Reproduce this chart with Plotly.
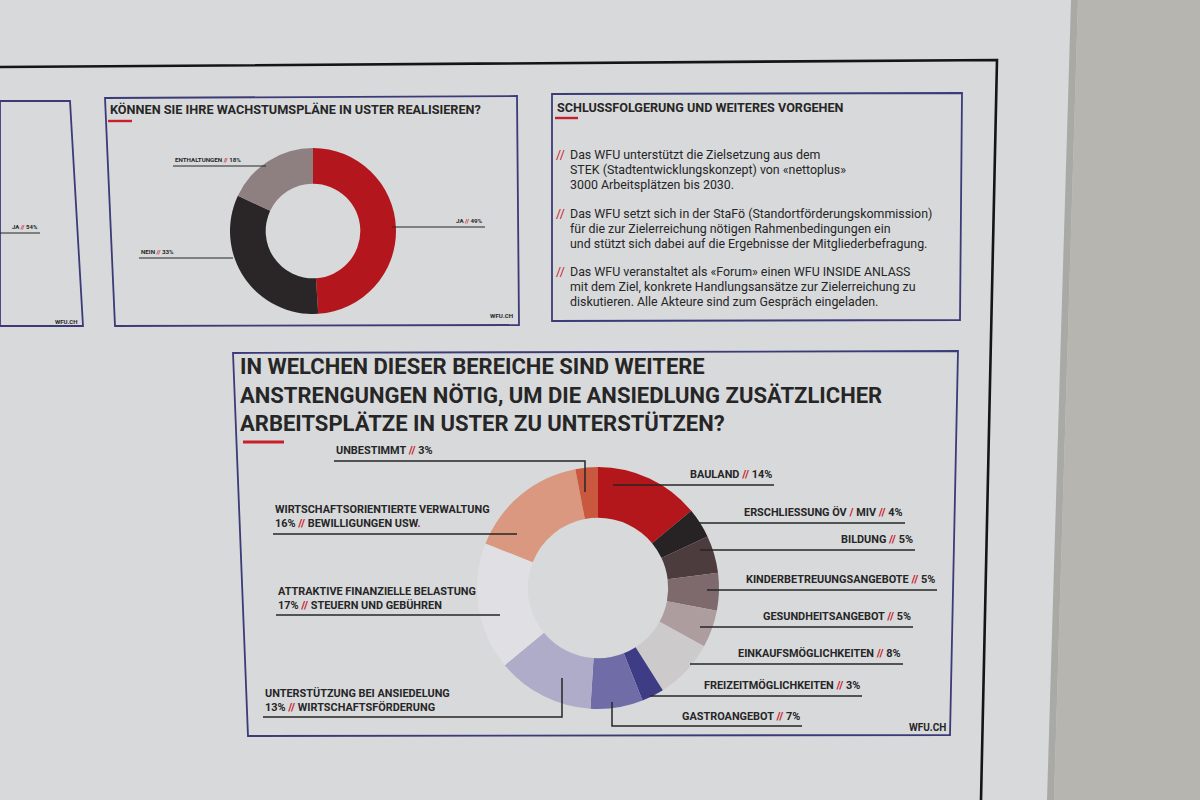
import plotly.graph_objects as go

# ---------------- DATA ----------------
# Chart 1: "Können Sie Ihre Wachstumspläne in Uster realisieren?"
q1_labels = ["JA", "NEIN", "ENTHALTUNGEN"]
q1_values = [49, 33, 18]
q1_colors = ["#b3171d", "#2a2627", "#8e7f80"]

# Chart 2: "In welchen dieser Bereiche sind weitere Anstrengungen nötig ..."
q2_labels = ["BAULAND", "ERSCHLIESSUNG ÖV / MIV", "BILDUNG", "KINDERBETREUUNGSANGEBOTE",
             "GESUNDHEITSANGEBOT", "EINKAUFSMÖGLICHKEITEN", "FREIZEITMÖGLICHKEITEN",
             "GASTROANGEBOT", "UNTERSTÜTZUNG BEI ANSIEDELUNG", "ATTRAKTIVE FINANZIELLE BELASTUNG",
             "WIRTSCHAFTSORIENTIERTE VERWALTUNG", "UNBESTIMMT"]
q2_notes = ["", "", "", "", "", "", "", "", "WIRTSCHAFTSFÖRDERUNG", "STEUERN UND GEBÜHREN",
            "BEWILLIGUNGEN USW", ""]
q2_values = [14, 4, 5, 5, 5, 8, 3, 7, 13, 17, 16, 3]
q2_colors = ["#b3161b", "#272324", "#4c3c3e", "#7e6a6c", "#ad9d9e", "#cdcacb",
             "#3d3c84", "#6f6ca8", "#afacc9", "#e0e0e4", "#d9987f", "#c9583f"]

# Partially visible chart on the left edge
left_label = "JA"
left_value = 54

bullets = [
    ["Das WFU unterstützt die Zielsetzung aus dem",
     "STEK (Stadtentwicklungskonzept) von «nettoplus»",
     "3000 Arbeitsplätzen bis 2030."],
    ["Das WFU setzt sich in der StaFö (Standortförderungskommission)",
     "für die zur Zielerreichung nötigen Rahmenbedingungen ein",
     "und stützt sich dabei auf die Ergebnisse der Mitgliederbefragung."],
    ["Das WFU veranstaltet als «Forum» einen WFU INSIDE ANLASS",
     "mit dem Ziel, konkrete Handlungsansätze zur Zielerreichung zu",
     "diskutieren. Alle Akteure sind zum Gespräch eingeladen."],
]

# ---------------- LAYOUT HELPERS ----------------
W, H = 1200, 800
RED = "#c8202a"
NAVY = "#3b3b78"
INK = "#262626"
POSTER = "#d8d9db"
WALL = "#b6b5b0"
BOLD = "Roboto, 'Open Sans', sans-serif"


def X(px):
    return px / W


def Y(py):
    return 1 - py / H


def path(points, close=False):
    s = "M " + " L ".join(f"{X(a):.5f},{Y(b):.5f}" for a, b in points)
    return s + (" Z" if close else "")


def sl():
    return f"<span style='color:{RED}'>//</span>"


shapes = []
annotations = []


def line(points, color=INK, width=1.4):
    shapes.append(dict(type="path", xref="paper", yref="paper", path=path(points),
                       line=dict(color=color, width=width)))


def box(points, color=NAVY, width=1.8):
    shapes.append(dict(type="path", xref="paper", yref="paper", path=path(points, True),
                       line=dict(color=color, width=width), layer="below"))


def text(x, y, t, size, anchor="left", color=INK, family=BOLD, weight="bold"):
    annotations.append(dict(x=X(x), y=Y(y), xref="paper", yref="paper", text=t,
                            showarrow=False, xanchor=anchor, yanchor="middle", align=anchor,
                            font=dict(size=size, color=color, family=family, weight=weight)))


# poster sheet and edge shadow
shapes.append(dict(type="path", xref="paper", yref="paper",
                   path=path([(0, 0), (1078, 0), (1054, 800), (0, 800)], True),
                   fillcolor=POSTER, line=dict(width=0), layer="below"))
shapes.append(dict(type="path", xref="paper", yref="paper",
                   path=path([(1071, 0), (1078, 0), (1054, 800), (1047, 800)], True),
                   fillcolor="#a9a9a6", line=dict(width=0), layer="below"))

# black frame
line([(0, 67), (997, 60), (981, 800)], color="#151515", width=2.6)

# panel borders
box([(0, 101), (70, 101), (83, 326), (0, 326)])
box([(105, 98), (517, 96), (519, 325), (115, 326)])
box([(552, 94), (962, 93), (960, 320), (552, 321)])
box([(233, 353), (958, 351), (950, 735), (248, 736)])

# ---------------- left partial panel ----------------
text(40, 227, f"{left_label} {sl()} {left_value}%", 6, anchor="right")
line([(0, 233), (40, 233)], width=1.0)
text(79, 321, "WFU.CH", 6, anchor="right")

# ---------------- panel 1 ----------------
text(108, 110, "KÖNNEN SIE IHRE WACHSTUMSPLÄNE IN USTER REALISIEREN?", 12.7)
line([(108, 121), (132, 121)], color=RED, width=2.4)
text(173, 160, f"{q1_labels[2]} {sl()} {q1_values[2]}%", 6.2)
line([(173, 166), (266, 166)], width=1.0)
text(485, 221, f"{q1_labels[0]} {sl()} {q1_values[0]}%", 6.2, anchor="right")
line([(392, 227), (485, 227)], width=1.0)
text(139, 252, f"{q1_labels[1]} {sl()} {q1_values[1]}%", 6.2)
line([(139, 258), (233, 258)], width=1.0)
text(515, 316, "WFU.CH", 6.2, anchor="right")

# ---------------- panel 2 ----------------
text(555, 107, "SCHLUSSFOLGERUNG UND WEITERES VORGEHEN", 12.6)
line([(555, 118), (578, 118)], color=RED, width=2.4)
block_y = [154, 213, 271]
for yb, lines_ in zip(block_y, bullets):
    text(554, yb, "//", 12.4, color=RED, family="Roboto, sans-serif", weight="normal")
    for i, ln in enumerate(lines_):
        text(568, yb + i * 15.5, ln, 12.4, family="Roboto, sans-serif", weight="normal")

# ---------------- panel 3 ----------------
title3 = ["IN WELCHEN DIESER BEREICHE SIND WEITERE",
          "ANSTRENGUNGEN NÖTIG, UM DIE ANSIEDLUNG ZUSÄTZLICHER",
          "ARBEITSPLÄTZE IN USTER ZU UNTERSTÜTZEN?"]
text(238, 395, "<br>".join(title3), 22)
line([(243, 442), (284, 442)], color=RED, width=3)
text(948, 727, "WFU.CH", 10, anchor="right")

# label placement for chart 2 (text x, text y, anchor, leader line points)
q2_place = [
    (774, 474, "right", [(613, 485), (774, 485)]),
    (905, 512, "right", [(698, 523), (905, 523)]),
    (915, 539, "right", [(700, 550), (915, 550)]),
    (937, 579, "right", [(707, 590), (937, 590)]),
    (913, 616, "right", [(700, 627), (913, 627)]),
    (903, 653, "right", [(690, 664), (903, 664)]),
    (862, 685, "right", [(650, 696), (862, 696)]),
    (802, 716, "right", [(612, 702), (612, 726), (802, 726)]),
    (263, 700, "left", [(263, 717), (562, 717), (562, 678)]),
    (276, 598, "left", [(276, 615), (500, 615)]),
    (273, 516, "left", [(273, 534), (517, 534)]),
    (334, 450, "left", [(334, 461), (585, 461), (585, 492)]),
]
LBL = 10.9
for lab, note, val, (tx, ty, anc, pts) in zip(q2_labels, q2_notes, q2_values, q2_place):
    lab_html = lab.replace(" / ", f" <span style='color:{RED}'>/</span> ")
    if note:
        tail = f"<span style='color:{RED}'>.</span>" if note.endswith("USW") else ""
        text(tx, ty, f"{lab_html}<br>{val}% {sl()} {note}{tail}", LBL, anchor=anc)
    else:
        text(tx, ty, f"{lab_html} {sl()} {val}%", LBL, anchor=anc)
    line(pts, width=1.5)


# ---------------- DONUTS ----------------
def dom(cx, cy, r):
    return dict(x=[X(cx - r), X(cx + r)], y=[Y(cy + r), Y(cy - r)])


fig = go.Figure()
fig.add_trace(go.Pie(labels=q1_labels, values=q1_values, sort=False, direction="clockwise",
                     rotation=0, hole=0.57, textinfo="none", showlegend=False,
                     marker=dict(colors=q1_colors, line=dict(width=0)),
                     domain=dom(313, 231, 83)))
fig.add_trace(go.Pie(labels=q2_labels, values=q2_values, sort=False, direction="clockwise",
                     rotation=0, hole=0.58, textinfo="none", showlegend=False,
                     marker=dict(colors=q2_colors, line=dict(width=0)),
                     domain=dom(598, 588, 121)))

fig.update_layout(width=W, height=H, margin=dict(l=0, r=0, t=0, b=0),
                  paper_bgcolor=WALL, plot_bgcolor=WALL,
                  shapes=shapes, annotations=annotations, showlegend=False)
fig.write_html("out.html", config={"displayModeBar": False},
               post_script="document.body.style.margin='0';document.body.style.overflow='hidden';")
